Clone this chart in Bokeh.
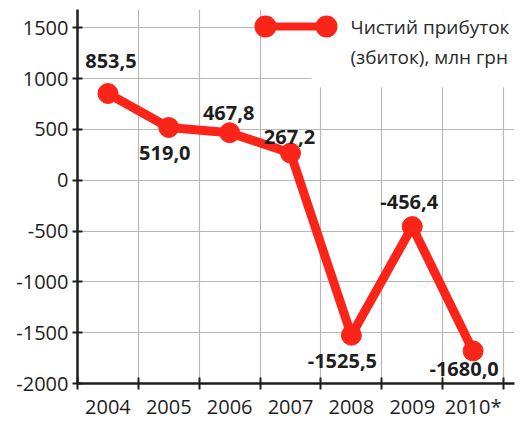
import numpy as np
from bokeh.plotting import figure
from bokeh.models import (ColumnDataSource, FixedTicker, Range1d, BoxAnnotation, Label)
from bokeh.core.properties import value
from bokeh.embed import file_html
from bokeh.resources import INLINE

# ---- data ----
years = ["2004", "2005", "2006", "2007", "2008", "2009", "2010*"]
profit = [853.5, 519.0, 467.8, 267.2, -1525.5, -456.4, -1680.0]
value_labels = ["853,5", "519,0", "467,8", "267,2", "-1525,5", "-456,4", "-1680,0"]
y_ticks = [-2000, -1500, -1000, -500, 0, 500, 1000, 1500]
y_tick_labels = ["-2000", "-1500", "-1000", "-500", "0", "500", "1000", "1500"]
legend_lines = ["Чистий прибуток", "(збиток), млн грн"]

# label offsets in px (style)
dx = [3, -4, -1, -1, -9, -3, -9]
dy = [-32, 26, -20, -16, 26, -25, 18]

RED = "#fb2419"
FONT = "Open Sans"
DARK = "#1e1e1e"

xc = np.arange(len(years)) + 0.5
src = ColumnDataSource(dict(x=xc, y=profit, lab=value_labels, dx=dx, dy=dy))

p = figure(frame_width=437, frame_height=374, output_backend="svg",
           toolbar_location=None,
           x_range=Range1d(0, 7.18), y_range=Range1d(-2000, 1680),
           min_border_left=77, min_border_right=7, min_border_top=9,
           min_border_bottom=22)
p.background_fill_color = "white"
p.border_fill_color = "white"
p.outline_line_color = None

# grids
p.xgrid.ticker = FixedTicker(ticks=list(range(1, len(years) + 1)))
p.ygrid.ticker = FixedTicker(ticks=[t for t in y_ticks if t > -2000])
for g in (p.xgrid, p.ygrid):
    g.grid_line_color = "#b8b8b8"
    g.grid_line_width = 1.2

# x axis: labels at category centres, tick marks at category boundaries
xa = p.xaxis[0]
xa.ticker = FixedTicker(ticks=list(xc), minor_ticks=list(range(0, len(years) + 1)))
xa.major_label_overrides = {float(x): y for x, y in zip(xc, years)}
xa.major_tick_in = 0
xa.major_tick_out = 0
xa.minor_tick_in = 6
xa.minor_tick_out = 6
xa.minor_tick_line_color = DARK
xa.minor_tick_line_width = 2
xa.axis_line_color = DARK
xa.axis_line_width = 2.5
xa.major_label_text_font = FONT
xa.major_label_text_font_size = "20px"
xa.major_label_text_color = DARK
xa.major_label_standoff = 3

# y axis
ya = p.yaxis[0]
ya.ticker = FixedTicker(ticks=y_ticks)
ya.major_label_overrides = {t: s for t, s in zip(y_ticks, y_tick_labels)}
ya.major_tick_in = 5
ya.major_tick_out = 5
ya.minor_tick_line_color = None
ya.major_tick_line_color = DARK
ya.major_tick_line_width = 2
ya.axis_line_color = DARK
ya.axis_line_width = 2.5
ya.major_label_text_font = FONT
ya.major_label_text_font_size = "20px"
ya.major_label_text_color = DARK
ya.major_label_standoff = 4

# series
p.line("x", "y", source=src, line_color=RED, line_width=9, line_join="round")
p.scatter("x", "y", source=src, size=20, fill_color=RED, line_color=RED)

p.text("x", "y", text="lab", source=src, x_offset="dx", y_offset="dy",
       text_align="center", text_baseline="middle",
       text_font=value(FONT), text_font_size="20px", text_font_style="bold",
       text_color=DARK)

# legend (screen units: x from frame left, y from frame bottom)
SU = dict(left_units="screen", right_units="screen",
          bottom_units="screen", top_units="screen")
p.add_layout(BoxAnnotation(left=234, bottom=296, fill_color="white", fill_alpha=1,
                           line_color=None, level="underlay", **SU))
p.add_layout(BoxAnnotation(left=188, right=249, bottom=353, top=361,
                           fill_color=RED, fill_alpha=1, line_color=None, **SU))
for cx in (188, 249):
    p.add_layout(BoxAnnotation(left=cx - 11, right=cx + 11, bottom=357 - 11,
                               top=357 + 11, border_radius=11,
                               fill_color=RED, fill_alpha=1, line_color=None, **SU))
for i, t in enumerate(legend_lines):
    p.add_layout(Label(x=273, y=357 - 30 * i, x_units="screen", y_units="screen",
                       text=t, text_font=FONT, text_font_size="19px",
                       text_color="#2a2a2a", text_baseline="middle"))

open("out.html", "w").write(file_html(p, INLINE))
